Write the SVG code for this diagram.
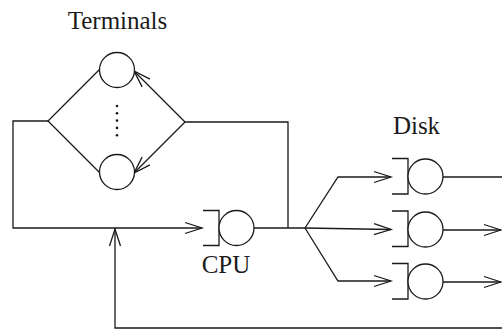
<svg xmlns="http://www.w3.org/2000/svg" width="502" height="330" viewBox="0 0 502 330">
<defs>
<style>
.ln{fill:none;stroke:#1a1a1a;stroke-width:1.3;stroke-linejoin:miter}
.srv{fill:#fff;stroke:#1a1a1a;stroke-width:1.3}
.lbl{font-family:"Liberation Serif","Times New Roman",serif;font-size:25px;fill:#1a1a1a;text-anchor:middle}
.dot{fill:#1a1a1a}
</style>
<marker id="arr" markerUnits="userSpaceOnUse" viewBox="-20 -8 22 16" refX="0" refY="0" markerWidth="22" markerHeight="16" orient="auto" overflow="visible">
<path d="M-17,-5.5 L0,0 L-17,5.5" fill="none" stroke="#1a1a1a" stroke-width="1.3"/>
</marker>
</defs>
<rect width="502" height="330" fill="#fff"/>
<g id="connectors">
<path class="ln" d="M100,69 L48,121 L100,173"/>
<path class="ln" d="M185,122 L134,71" marker-end="url(#arr)"/>
<path class="ln" d="M185,122 L134,173" marker-end="url(#arr)"/>
<path class="ln" d="M48,121 L13,121 L13,228 L202,228" marker-end="url(#arr)"/>
<path class="ln" d="M185,122 L288,122 L288,228"/>
<path class="ln" d="M253.5,228 L305,228"/>
<path class="ln" d="M305,228 L338,177 L391,177" marker-end="url(#arr)"/>
<path class="ln" d="M305,228 L391,229.5" marker-end="url(#arr)"/>
<path class="ln" d="M305,228 L338,281 L391,281" marker-end="url(#arr)"/>
<path class="ln" d="M443,177 L502,177"/>
<path class="ln" d="M443,230 L501,230" marker-end="url(#arr)"/>
<path class="ln" d="M443,282 L501,282" marker-end="url(#arr)"/>
<path class="ln" d="M502,328 L115,328 L115,229" marker-end="url(#arr)"/>
</g>
<g id="terminals">
<text class="lbl" x="117.5" y="29">Terminals</text>
<circle class="srv" cx="117" cy="70" r="17.5"/>
<circle class="srv" cx="117" cy="172" r="17.5"/>
<circle class="dot" cx="117" cy="106" r="1.3"/>
<circle class="dot" cx="117" cy="113.3" r="1.3"/>
<circle class="dot" cx="117" cy="120.6" r="1.3"/>
<circle class="dot" cx="117" cy="127.9" r="1.3"/>
<circle class="dot" cx="117" cy="135.2" r="1.3"/>
</g>
<g id="cpu">
<path class="ln" d="M203,210.5 L219,210.5 L219,245.5 L203,245.5"/>
<circle class="srv" cx="236.5" cy="228" r="17.5"/>
<text class="lbl" x="226" y="273">CPU</text>
</g>
<g id="disk1">
<text class="lbl" x="416.5" y="134">Disk</text>
<path class="ln" d="M392,158.5 L408,158.5 L408,194 L392,194"/>
<circle class="srv" cx="425.5" cy="176.5" r="17.5"/>
</g>
<g id="disk2">
<path class="ln" d="M392,211 L408,211 L408,246.5 L392,246.5"/>
<circle class="srv" cx="425.5" cy="229.5" r="17.5"/>
</g>
<g id="disk3">
<path class="ln" d="M392,263.5 L408,263.5 L408,299 L392,299"/>
<circle class="srv" cx="425.5" cy="281.5" r="17.5"/>
</g>
</svg>
